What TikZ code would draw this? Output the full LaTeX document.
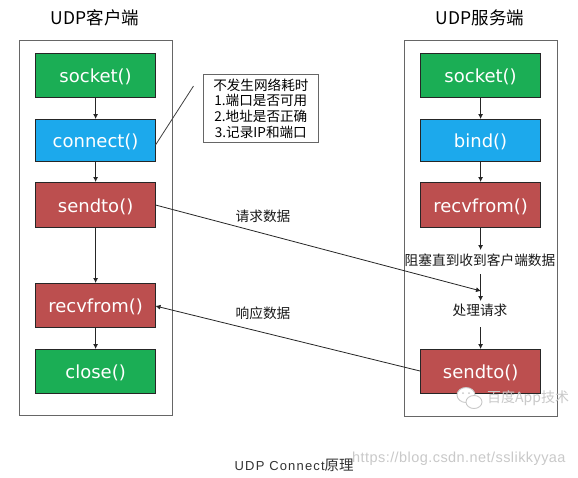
\documentclass[tikz,border=0pt]{standalone}
\usepackage{fontspec}
\setmainfont{DejaVu Sans}
\newfontfamily\cjk{Noto Sans CJK SC}
\newfontfamily\liber{Liberation Sans}
\usetikzlibrary{arrows.meta}
\definecolor{fgreen}{HTML}{1BAE55}
\definecolor{fblue}{HTML}{1CA9EC}
\definecolor{fred}{HTML}{BC4F4F}
\definecolor{frameg}{HTML}{666666}
\definecolor{wm}{HTML}{C9C9C9}
\tikzset{
  x=1pt,y=-1pt,
  frame/.style={draw=frameg,line width=0.9pt,minimum width=153pt,anchor=north west,inner sep=0pt},
  func/.style={draw=black!85,line width=1.2pt,minimum width=120pt,text=white,font=\fontsize{18}{20}\selectfont,inner sep=0pt,anchor=north west,text height=16pt,text depth=1.6pt},
  green box/.style={func,fill=fgreen},
  blue box/.style={func,fill=fblue},
  red box/.style={func,fill=fred},
  arr/.style={draw=black!85,line width=0.8pt,-{Latex[length=5pt,width=5pt]}},
  thin line/.style={draw=black!75,line width=0.8pt},
  title/.style={font=\cjk\fontsize{17.5}{20}\selectfont,inner sep=0pt},
  lab/.style={font=\cjk\fontsize{13.7}{15}\selectfont,inner sep=0pt,text=black!90},
  watermark/.style={text=wm,inner sep=0pt}
}
\begin{document}
\begin{tikzpicture}
\useasboundingbox (0,0) rectangle (578,477);
\fill[white] (0,0) rectangle (578,477);
% frames
\node[frame,minimum height=375pt] (cframe) at (19,40) {};
\node[frame,minimum height=376pt] (sframe) at (404,40) {};
\node[title] (ctitle) at (95,18) {UDP客户端};
\node[title] (stitle) at (480,18) {UDP服务端};
% client
\node[green box,minimum height=44pt] (csocket) at (35,53) {socket()};
\node[blue box,minimum height=42pt] (cconnect) at (35,119) {connect()};
\node[red box,minimum height=45pt] (csendto) at (35,182) {sendto()};
\node[red box,minimum height=44pt] (crecv) at (35,283) {recvfrom()};
\node[green box,minimum height=44pt] (cclose) at (35,349) {close()};
% server
\node[green box,minimum height=44pt] (ssocket) at (420,53) {socket()};
\node[blue box,minimum height=42pt] (sbind) at (420,119) {bind()};
\node[red box,minimum height=45pt] (srecv) at (420,182) {recvfrom()};
\node[lab] (sblock) at (480,260) {阻塞直到收到客户端数据};
\node[lab] (shandle) at (480,310) {处理请求};
\node[red box,minimum height=44pt] (ssendto) at (420,349) {sendto()};
% note
\node[draw=frameg,line width=0.7pt,fill=white,minimum width=115pt,minimum height=68pt,anchor=north west,inner sep=0pt,align=center,font=\cjk\fontsize{13.6}{15.7}\selectfont] (note) at (203,74) {不发生网络耗时\\1.端口是否可用\\2.地址是否正确\\3.记录IP和端口};
\coordinate (notetip) at (193.5,86);
\coordinate (connfoot) at (155.5,145);
\draw[thin line] (connfoot) -- (notetip);
% vertical arrows
\draw[arr] (csocket.south) -- (cconnect.north);
\draw[arr] (cconnect.south) -- (csendto.north);
\draw[arr] (csendto.south) -- (crecv.north);
\draw[arr] (crecv.south) -- (cclose.north);
\draw[arr] (ssocket.south) -- (sbind.north);
\draw[arr] (sbind.south) -- (srecv.north);
\coordinate (blockin) at (srecv.south |- 0,250);
\coordinate (blockout) at (srecv.south |- 0,274);
\coordinate (handlein) at (srecv.south |- 0,301);
\coordinate (handleout) at (srecv.south |- 0,327);
\draw[arr] (srecv.south) -- (blockin);
\draw[arr] (blockout) -- (handlein);
\draw[arr] (handleout) -- (ssendto.north);
% cross arrows
\coordinate (reqstart) at (155.5,205);
\coordinate (reqend) at (481,291);
\coordinate (respstart) at (420,371);
\coordinate (respend) at (155.5,306);
\draw[arr] (reqstart) -- (reqend);
\draw[arr] (respstart) -- (respend);
\node[lab] (reqlab) at (263,216) {请求数据};
\node[lab] (resplab) at (263,313) {响应数据};
% caption
\node[inner sep=0pt,anchor=west,text=black!80,font=\fontsize{13}{15}\selectfont] (caption) at (234.5,465) {\liber\addfontfeature{LetterSpace=9}UDP Connect\cjk\fontsize{14.5}{15}\selectfont 原理};
% watermarks
\node[watermark,anchor=west,font=\liber\fontsize{14.5}{16}\selectfont\addfontfeature{LetterSpace=3}] (csdnwm) at (352,459) {https://blog.csdn.net/sslikkyyaa};
\draw[wm,line width=0.9pt,fill=white] (466,395) ellipse (9pt and 7.5pt);
\draw[wm,line width=0.9pt,fill=white] (474,402) ellipse (8pt and 6.5pt);
\fill[wm] (463,393) circle (1pt) (469,393) circle (1pt);
\node[watermark,anchor=west,font=\cjk\fontsize{14}{16}\selectfont] (appwm) at (487,398) {百度App技术};
\end{tikzpicture}
\end{document}
